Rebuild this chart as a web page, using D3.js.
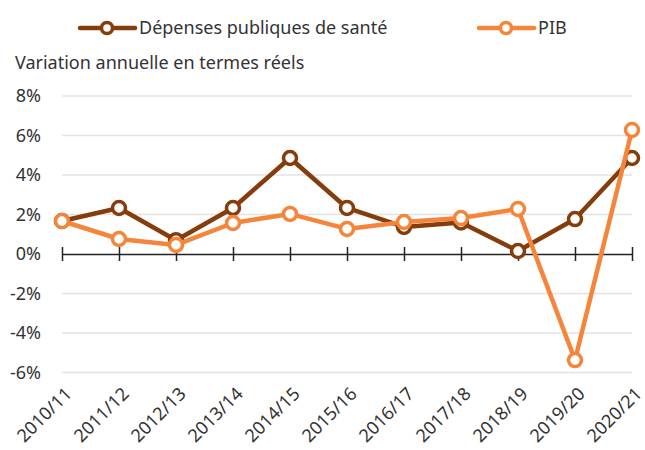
<!DOCTYPE html>
<html>
<head>
<meta charset="utf-8">
<script src="https://d3js.org/d3.v7.min.js"></script>
<style>
  body { margin: 0; background: #fff; }
  text { font-family: "Noto Sans", sans-serif; fill: #333; }
</style>
</head>
<body>
<script>
  var years = ['2010/11', '2011/12', '2012/13', '2013/14', '2014/15', '2015/16',
               '2016/17', '2017/18', '2018/19', '2019/20', '2020/21'];
  var depenses = [1.67, 2.33, 0.7, 2.33, 4.86, 2.33, 1.37, 1.6, 0.15, 1.77, 4.86];
  var pib = [1.67, 0.76, 0.46, 1.57, 2.03, 1.27, 1.62, 1.82, 2.28, -5.37, 6.28];
  var yTicks = [-6, -4, -2, 0, 2, 4, 6, 8];

  var brown = '#853d0c', orange = '#f5853a';

  var svg = d3.select('body').append('svg')
    .attr('width', 645)
    .attr('height', 450);

  var x = d3.scalePoint().domain(years).range([62, 632]);
  var y = d3.scaleLinear().domain([-6, 8]).range([372.5, 96]);

  // gridlines
  svg.append('g').selectAll('line')
    .data(yTicks.filter(function(d) { return d !== 0; }))
    .enter().append('line')
      .attr('x1', 62).attr('x2', 632)
      .attr('y1', function(d) { return y(d); })
      .attr('y2', function(d) { return y(d); })
      .attr('stroke', '#e3e3e3')
      .attr('stroke-width', 1.5);

  // y labels
  svg.append('g').selectAll('text')
    .data(yTicks)
    .enter().append('text')
      .attr('x', 41)
      .attr('y', function(d) { return y(d); })
      .attr('dy', '0.35em')
      .attr('text-anchor', 'end')
      .style('font-size', '18px')
      .text(function(d) { return d + '%'; });

  // x axis at zero
  var xAxis = d3.axisBottom(x).tickSizeInner(7).tickSizeOuter(0).tickFormat('');
  var ax = svg.append('g').attr('transform', 'translate(0,' + y(0) + ')').call(xAxis);
  ax.select('.domain').attr('stroke', '#222').attr('stroke-width', 1.5);
  ax.selectAll('.tick line').attr('y1', -7).attr('stroke', '#222').attr('stroke-width', 1.5);

  // x labels, rotated, at the bottom
  svg.append('g').selectAll('text')
    .data(years)
    .enter().append('text')
      .attr('transform', function(d) { return 'translate(' + (x(d) + 2) + ',386) rotate(-45)'; })
      .attr('text-anchor', 'end')
      .attr('dy', '0.7em')
      .style('font-size', '18px')
      .text(function(d) { return d; });

  // lines
  var line = d3.line()
    .x(function(d, i) { return x(years[i]); })
    .y(function(d) { return y(d); });

  [[depenses, brown], [pib, orange]].forEach(function(s) {
    svg.append('path')
      .datum(s[0])
      .attr('d', line)
      .attr('fill', 'none')
      .attr('stroke', s[1])
      .attr('stroke-width', 4.5)
      .attr('stroke-linejoin', 'round');
    svg.append('g').selectAll('circle')
      .data(s[0])
      .enter().append('circle')
        .attr('cx', function(d, i) { return x(years[i]); })
        .attr('cy', function(d) { return y(d); })
        .attr('r', 6.5)
        .attr('fill', '#fff')
        .attr('stroke', s[1])
        .attr('stroke-width', 3.5);
  });

  // axis title
  svg.append('text')
    .attr('x', 15).attr('y', 69)
    .style('font-size', '18px')
    .text('Variation annuelle en termes réels');

  // legend
  var legend = [
    { name: 'Dépenses publiques de santé', color: brown, x: 80 },
    { name: 'PIB', color: orange, x: 479 }
  ];
  var lg = svg.append('g').selectAll('g')
    .data(legend)
    .enter().append('g')
      .attr('transform', function(d) { return 'translate(' + d.x + ',28)'; });
  lg.append('line')
    .attr('x1', 0).attr('x2', 55)
    .attr('stroke', function(d) { return d.color; })
    .attr('stroke-width', 4.5)
    .attr('stroke-linecap', 'round');
  lg.append('circle')
    .attr('cx', 27).attr('r', 5.5)
    .attr('fill', '#fff')
    .attr('stroke', function(d) { return d.color; })
    .attr('stroke-width', 3.5);
  lg.append('text')
    .attr('x', 59).attr('dy', '0.35em')
    .style('font-size', '18px')
    .text(function(d) { return d.name; });
</script>
</body>
</html>
